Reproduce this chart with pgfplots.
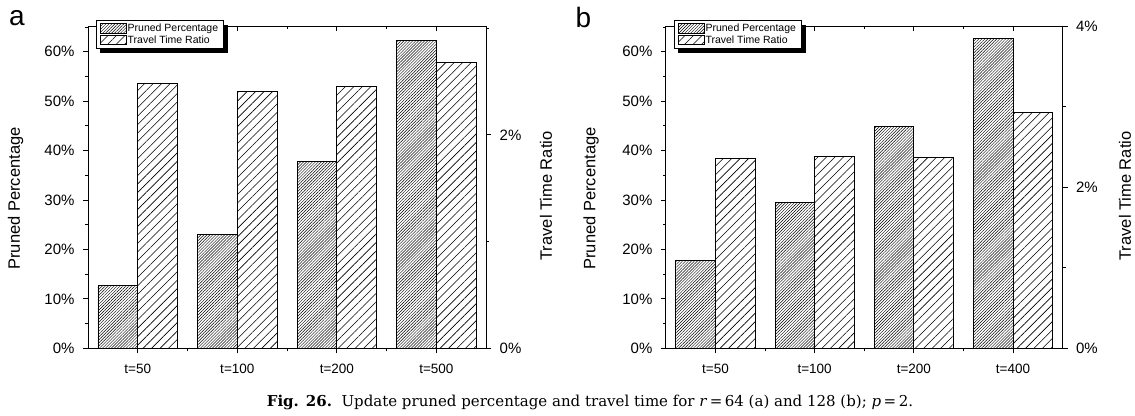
\documentclass[border=0pt]{standalone}
\usepackage{fontspec}
\setmainfont{Liberation Sans}
\newfontfamily\capfont{DejaVu Serif}
\usepackage{pgfplots}
\pgfplotsset{compat=1.18}
\usetikzlibrary{patterns.meta}

\tikzset{
  prunedpat/.style={pattern={Lines[angle=45,distance=2.1pt,line width=0.45pt]}, draw=black, line width=0.8pt},
  travelpat/.style={pattern={Lines[angle=45,distance=6pt,line width=0.6pt]}, draw=black, line width=0.8pt},
}
\pgfplotsset{
  base/.style={
    scale only axis, anchor=south west, height=322.3pt,
    xmin=-0.5, xmax=3.5,
    /pgf/number format/assume math mode=true,
    tick align=outside,
    major tick length=5pt, minor tick length=3pt,
    every tick/.style={black, line width=0.8pt},
    axis line style={line width=0.9pt},
    tick label style={font=\fontsize{15}{15}\selectfont},
    clip=false,
  },
  leftax/.style={
    base, ymin=0, ymax=65.2,
    xtick={0,1,2,3}, minor xtick={0.5,1.5,2.5},
    xtick pos=left, ytick pos=left,
    ytick={0,10,...,60}, minor ytick={5,15,...,65},
    yticklabel={\pgfmathprintnumber{\tick}\%},
    x tick label style={font=\fontsize{13.5}{13.5}\selectfont, yshift=-7pt},
    y tick label style={xshift=-5pt},
  },
  rightax/.style={
    base, ymin=0, xtick=\empty, ytick pos=right,
    axis line style={draw=none},
    yticklabel={\pgfmathprintnumber{\tick}\%},
    y tick label style={xshift=5pt},
  },
  topax/.style={
    base, ymin=0, ymax=1, ytick=\empty,
    xtick={0,1,2,3}, minor xtick={0.5,1.5,2.5}, xticklabels={},
    xtick pos=right, tick align=inside,
    axis line style={draw=none},
    legend image code/.code={\draw[#1] (0pt,-4.8pt) rectangle (25.5pt,4.8pt);},
    legend style={draw=black, line width=0.8pt, fill=white,
      anchor=north west,
      font=\fontsize{10.5}{12}\selectfont,
      inner xsep=4pt, inner ysep=2.5pt, row sep=0.5pt,
      nodes={inner sep=1pt},
      cells={anchor=west}},
  },
}

\begin{document}
\begin{tikzpicture}
\path[use as bounding box] (0,0) rectangle (1135pt,415pt);

% ---------------- panel a ----------------
\begin{axis}[leftax, at={(88pt,66.7pt)}, width=398.2pt,
  xticklabels={{t=50},{t=100},{t=200},{t=500}}]
\addplot[ybar, bar width=0.4, bar shift=0pt, prunedpat]
  coordinates {(-0.2,12.7) (0.8,23.0) (1.8,37.8) (2.8,62.3)};
\end{axis}
\begin{axis}[rightax, at={(88pt,66.7pt)}, width=398.2pt,
  ymax=3.02, ytick={0,2}, minor ytick={1,3}]
\addplot[ybar, bar width=0.4, bar shift=0pt, travelpat]
  coordinates {(0.2,2.48) (1.2,2.41) (2.2,2.45) (3.2,2.68)};
\end{axis}
\begin{axis}[topax, at={(88pt,66.7pt)}, width=398.2pt,
  legend style={at={(0.02,1.0186)}, name=legA}]
\addlegendimage{prunedpat}
\addlegendimage{travelpat}
\legend{Pruned Percentage, Travel Time Ratio}
\end{axis}
\fill[black] ([yshift=-4.5pt]legA.north east) rectangle ([xshift=4.5pt,yshift=-4.5pt]legA.south east);
\fill[black] ([xshift=4.5pt]legA.south west) rectangle ([xshift=4.5pt,yshift=-4.5pt]legA.south east);

% ---------------- panel b ----------------
\begin{axis}[leftax, at={(665.9pt,66.7pt)}, width=396.7pt,
  xticklabels={{t=50},{t=100},{t=200},{t=400}}]
\addplot[ybar, bar width=0.4, bar shift=0pt, prunedpat]
  coordinates {(-0.2,17.7) (0.8,29.5) (1.8,44.9) (2.8,62.7)};
\end{axis}
\begin{axis}[rightax, at={(665.9pt,66.7pt)}, width=396.7pt,
  ymax=4, ytick={0,2,4}, minor ytick={1,3}]
\addplot[ybar, bar width=0.4, bar shift=0pt, travelpat]
  coordinates {(0.2,2.356) (1.2,2.38) (2.2,2.37) (3.2,2.93)};
\end{axis}
\begin{axis}[topax, at={(665.9pt,66.7pt)}, width=396.7pt,
  legend style={at={(0.02,1.0186)}, name=legB}]
\addlegendimage{prunedpat}
\addlegendimage{travelpat}
\legend{Pruned Percentage, Travel Time Ratio}
\end{axis}
\fill[black] ([yshift=-4.5pt]legB.north east) rectangle ([xshift=4.5pt,yshift=-4.5pt]legB.south east);
\fill[black] ([xshift=4.5pt]legB.south west) rectangle ([xshift=4.5pt,yshift=-4.5pt]legB.south east);

% ---------------- labels ----------------
\node[font=\fontsize{28}{28}\selectfont] at (17pt,396.5pt) {a};
\node[font=\fontsize{28}{28}\selectfont] at (583.5pt,397.5pt) {b};
\node[rotate=90, font=\fontsize{16.5}{16.5}\selectfont] at (15.5pt,216.5pt) {Pruned Percentage};
\node[rotate=90, font=\fontsize{16.5}{16.5}\selectfont] at (546pt,219pt) {Travel Time Ratio};
\node[rotate=90, font=\fontsize{16.5}{16.5}\selectfont] at (591pt,216.5pt) {Pruned Percentage};
\node[rotate=90, font=\fontsize{16.5}{16.5}\selectfont] at (1125pt,219pt) {Travel Time Ratio};
\node[anchor=base, font=\capfont\fontsize{15}{15}\selectfont] at (590pt,8.3pt)
  {\textbf{Fig. 26.}\ \ Update pruned percentage and travel time for \textit{r}\,=\,64 (a) and 128 (b); \textit{p}\,=\,2.};
\end{tikzpicture}
\end{document}
